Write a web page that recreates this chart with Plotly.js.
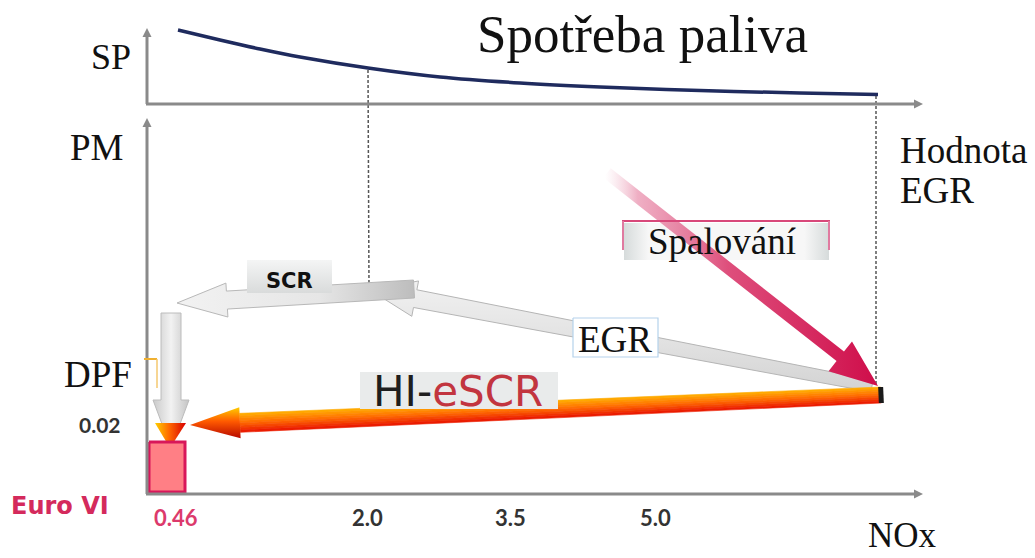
<!DOCTYPE html>
<html>
<head>
<meta charset="utf-8">
<script src="https://cdn.plot.ly/plotly-3.0.1.min.js"></script>
<style>html,body{margin:0;padding:0;background:#fff;}#chart{width:1035px;height:558px;}</style>
</head>
<body>
<div id="chart"></div>
<script>
// ---------------- data (schematic positions) ----------------
// fuel consumption curve (SP) across the NOx / EGR range
const spCurveX = [178, 220, 260, 300, 368, 440, 520, 600, 700, 800, 878];
const spCurveY = [30, 40, 49, 57, 68, 77, 83, 87, 90.5, 93, 94.5];
// NOx tick labels
const noxTickLabels = ["0.46", "2.0", "3.5", "5.0"];
const noxTickX = [176, 367, 510, 655];
// PM tick label
const pmTickLabel = "0.02";
// arrows: [tailX, tailY, tipX, tipY]
const arrowEGR = [872, 386, 370, 290];
const arrowSCR = [414, 289, 177, 303];
const arrowDPF = [171, 313, 171, 448];
const arrowHIeSCR = [881, 395, 190, 425];
const arrowSpal = [607, 173, 878, 386];
// text labels
const titleText = "Spotřeba paliva";
const axisLabels = ["SP", "PM", "NOx"];
const egrValueLabel = ["Hodnota", "EGR"];
const boxLabels = ["SCR", "EGR", "Spalování", "DPF"];
const euroLabel = "Euro VI";

// ---------------- helpers ----------------
function arrowPts(a, wt, wn, hw, hl) {
  const [x0, y0, x1, y1] = a;
  const dx = x1 - x0, dy = y1 - y0, L = Math.hypot(dx, dy);
  const ux = dx / L, uy = dy / L, px = -uy, py = ux;
  const nx = x1 - ux * hl, ny = y1 - uy * hl;
  return {x0, y0, x1, y1, ux, uy, px, py, nx, ny, wt, wn, hw, hl};
}
function arrowPoly(a, wt, wn, hw, hl) {
  const g = arrowPts(a, wt, wn, hw, hl);
  const P = [
    [g.x0 + g.px * wt / 2, g.y0 + g.py * wt / 2],
    [g.nx + g.px * wn / 2, g.ny + g.py * wn / 2],
    [g.nx + g.px * hw / 2, g.ny + g.py * hw / 2],
    [g.x1, g.y1],
    [g.nx - g.px * hw / 2, g.ny - g.py * hw / 2],
    [g.nx - g.px * wn / 2, g.ny - g.py * wn / 2],
    [g.x0 - g.px * wt / 2, g.y0 - g.py * wt / 2]
  ];
  return {x: P.map(p => p[0]), y: P.map(p => p[1])};
}
function poly(xs, ys, fill, extra) {
  return Object.assign({
    type: "scatter", mode: "lines", x: xs.concat([xs[0]]), y: ys.concat([ys[0]]),
    fill: "toself", fillcolor: fill, line: {width: 0, color: fill},
    hoverinfo: "skip", showlegend: false
  }, extra || {});
}
function rectTrace(x0, y0, x1, y1, fill, extra) {
  return poly([x0, x1, x1, x0], [y0, y0, y1, y1], fill, extra);
}
function lerpColor(c1, c2, t) {
  const h = c => [1, 3, 5].map(i => parseInt(c.substr(i, 2), 16));
  const a = h(c1), b = h(c2);
  return "rgb(" + a.map((v, i) => Math.round(v + (b[i] - v) * t)).join(",") + ")";
}

const traces = [];

// SP curve
traces.push({
  type: "scatter", mode: "lines", x: spCurveX, y: spCurveY,
  line: {color: "#1f2b5e", width: 3.5, shape: "spline"},
  hoverinfo: "skip", showlegend: false
});

// grey EGR arrow
const egr = arrowPoly(arrowEGR, 12, 18, 36, 46);
traces.push(poly(egr.x, egr.y, "#e4e4e4", {
  line: {width: 1, color: "#b5b5b5"},
  fillgradient: {type: "vertical", start: 285, stop: 395,
    colorscale: [[0, "#f0f0f0"], [0.5, "#e2e2e2"], [1, "#d2d2d2"]]}
}));
// grey SCR arrow
const scr = arrowPoly(arrowSCR, 18, 18, 34, 50);
traces.push(poly(scr.x, scr.y, "#e6e6e6", {
  line: {width: 1, color: "#b8b8b8"},
  fillgradient: {type: "horizontal", start: 177, stop: 414,
    colorscale: [[0, "#f2f2f2"], [0.6, "#e6e6e6"], [1, "#bdbdbd"]]}
}));
// grey DPF arrow
const dpf = arrowPoly(arrowDPF, 20, 20, 36, 48);
traces.push(poly(dpf.x, dpf.y, "#e2e2e2", {
  line: {width: 1, color: "#bcbcbc"},
  fillgradient: {type: "horizontal", start: 153, stop: 189,
    colorscale: [[0, "#c9c9c9"], [0.5, "#f2f2f2"], [1, "#c4c4c4"]]}
}));
// orange tip where DPF meets HI-eSCR
traces.push(poly([155, 186, 170], [423, 423, 448], "#ff6000", {
  fillgradient: {type: "horizontal", start: 155, stop: 186,
    colorscale: [[0, "#ffd000"], [0.45, "#ff6a00"], [1, "#d80000"]]}
}));

// HI-eSCR arrow: shaft in strips (yellow top -> red bottom), head with gradient
const hg = arrowPts(arrowHIeSCR, 16, 19, 31, 50);
const N = 8;
for (let i = 0; i < N; i++) {
  const a = 0.5 - i / N, b = 0.5 - (i + 1) / N;
  const t = (i + 0.5) / N;
  const col = t < 0.5 ? lerpColor("#ffb300", "#ff6a00", t / 0.5) : lerpColor("#ff6a00", "#e81200", (t - 0.5) / 0.5);
  const xs = [hg.x0 + hg.px * hg.wt * a, hg.nx + hg.px * hg.wn * a, hg.nx + hg.px * hg.wn * b, hg.x0 + hg.px * hg.wt * b];
  const ys = [hg.y0 + hg.py * hg.wt * a, hg.ny + hg.py * hg.wn * a, hg.ny + hg.py * hg.wn * b, hg.y0 + hg.py * hg.wt * b];
  traces.push(poly(xs, ys, col, {line: {width: 0.6, color: col}}));
}
traces.push(poly(
  [hg.nx + hg.px * hg.hw / 2, hg.x1, hg.nx - hg.px * hg.hw / 2],
  [hg.ny + hg.py * hg.hw / 2, hg.y1, hg.ny - hg.py * hg.hw / 2], "#ff5a00", {
  fillgradient: {type: "vertical", start: 406, stop: 440,
    colorscale: [[0, "#ffd800"], [0.45, "#ff5a00"], [1, "#b00000"]]}
}));
// dark end cap
traces.push({
  type: "scatter", mode: "lines",
  x: [hg.x0 + hg.px * 8, hg.x0 - hg.px * 8], y: [hg.y0 + hg.py * 8, hg.y0 - hg.py * 8],
  line: {color: "#1a1a1a", width: 5}, hoverinfo: "skip", showlegend: false
});

// label boxes drawn over the grey arrows
traces.push(rectTrace(247, 260, 332, 293, "#e8eaea", {
  fillgradient: {type: "vertical", start: 260, stop: 293,
    colorscale: [[0, "#f4f5f5"], [1, "#d9dbdb"]]}
}));
traces.push(rectTrace(573, 318, 658, 357, "#ffffff", {line: {width: 1.2, color: "#b5d2ec"}}));
traces.push(rectTrace(624, 223, 829, 260, "#f4f4f4", {
  fillgradient: {type: "horizontal", start: 624, stop: 829,
    colorscale: [[0, "#d6dbdb"], [0.12, "#f7f7f7"], [0.88, "#f7f7f7"], [1, "#d6dbdb"]]}
}));

// Spalování arrow (fades in from the top-left)
const sp = arrowPoly(arrowSpal, 12, 12, 38, 48);
traces.push(poly(sp.x, sp.y, "#d0104c", {
  fillgradient: {type: "horizontal", start: 605, stop: 878,
    colorscale: [[0, "rgba(240,190,205,0)"], [0.12, "rgba(232,140,170,0.7)"], [0.45, "#de4f7c"], [1, "#cf0d4a"]]}
}));

// HI-eSCR label box
traces.push(rectTrace(360, 372, 558, 409, "#e9ebeb"));

// Euro VI box
traces.push(rectTrace(149, 442, 185, 492, "#ff7f85", {line: {width: 3, color: "#d8175a"}}));

// ---------------- shapes: axes, dashes ----------------
const axisCol = "#8a8a8a";
const shapes = [
  // top axes
  {type: "line", x0: 147, y0: 104, x1: 147, y1: 36, line: {color: axisCol, width: 3}},
  {type: "line", x0: 146, y0: 104, x1: 916, y1: 104, line: {color: axisCol, width: 3}},
  {type: "path", path: "M 142.5 37 L 147 28 L 151.5 37 Z", fillcolor: axisCol, line: {width: 0}},
  {type: "path", path: "M 914 99.5 L 923 104 L 914 108.5 Z", fillcolor: axisCol, line: {width: 0}},
  // bottom axes
  {type: "line", x0: 147, y0: 494, x1: 147, y1: 126, line: {color: axisCol, width: 3}},
  {type: "line", x0: 146, y0: 494, x1: 916, y1: 494, line: {color: axisCol, width: 3}},
  {type: "path", path: "M 142.5 127 L 147 118 L 151.5 127 Z", fillcolor: axisCol, line: {width: 0}},
  {type: "path", path: "M 914 489.5 L 923 494 L 914 498.5 Z", fillcolor: axisCol, line: {width: 0}},
  // dashed guides
  {type: "line", x0: 368, y0: 70, x1: 369, y1: 288, line: {color: "#555", width: 1.5, dash: "3px,2px"}, layer: "below"},
  {type: "line", x0: 876, y0: 96, x1: 876, y1: 384, line: {color: "#555", width: 1.5, dash: "3px,2px"}, layer: "below"},
  // Spalování frame
  {type: "line", x0: 622, y0: 221, x1: 830, y1: 221, line: {color: "#d8487a", width: 2}, layer: "above"},
  {type: "line", x0: 623, y0: 221, x1: 623, y1: 250, line: {color: "#e07aa0", width: 2}, layer: "above"},
  {type: "line", x0: 829, y0: 221, x1: 829, y1: 250, line: {color: "#e07aa0", width: 2}, layer: "above"},
  // DPF small marker
  {type: "rect", x0: 149, y0: 359, x1: 157, y1: 392, fillcolor: "#ffffff", line: {width: 0}, layer: "above"},
  {type: "line", x0: 144, y0: 359, x1: 157, y1: 359, line: {color: "#f0b030", width: 2}, layer: "above"},
  {type: "line", x0: 157, y0: 359, x1: 157, y1: 388, line: {color: "#f4c870", width: 1.5}, layer: "above"}
];

// ---------------- annotations ----------------
const serif = "Liberation Serif, Times New Roman, serif";
const ink = "#111111";
function ann(text, x, y, size, family, color, extra) {
  return Object.assign({text, x, y, xref: "x", yref: "y", showarrow: false,
    font: {family, size, color}, xanchor: "center", yanchor: "middle"}, extra || {});
}
function annW(text, x, y, size, family, color, weight, extra) {
  return Object.assign(ann(text, x, y, size, family, color), {font: {family, size, color, weight}}, extra || {});
}
const annotations = [
  ann(titleText, 642, 34, 53, serif, ink),
  ann(axisLabels[0], 111, 57, 36, serif, ink),
  ann(axisLabels[1], 96, 147, 37, serif, ink),
  ann(axisLabels[2], 902, 535, 35, serif, ink),
  ann(egrValueLabel[0], 898, 150, 37, serif, ink, {xanchor: "left"}),
  ann(egrValueLabel[1], 898, 190, 37, serif, ink, {xanchor: "left"}),
  annW(boxLabels[0], 289, 281, 21, "DejaVu Sans, sans-serif", "#111", "bold"),
  ann(boxLabels[1], 615, 339, 37, serif, ink),
  ann(boxLabels[2], 722, 241, 37, serif, ink),
  ann(boxLabels[3], 134, 374, 37, serif, ink, {xanchor: "right"}),
  ann('HI-<span style="color:#c2353f">eSCR</span>', 458, 391, 42, "DejaVu Sans, sans-serif", "#1e1e1e"),
  annW(pmTickLabel, 100, 424, 21, "Lato, sans-serif", "#333", "bold"),
  annW(euroLabel, 60, 506, 24, "DejaVu Sans, sans-serif", "#d42a5c", "bold")
];
noxTickLabels.forEach((t, i) => {
  const col = i === 0 ? "#dc3a6c" : "#333";
  annotations.push(annW(t, noxTickX[i], 517, 22, "Lato, sans-serif", col, "bold"));
});

const layout = {
  width: 1035, height: 558,
  margin: {l: 0, r: 0, t: 0, b: 0, pad: 0},
  paper_bgcolor: "#ffffff", plot_bgcolor: "#ffffff",
  xaxis: {range: [0, 1035], visible: false, fixedrange: true},
  yaxis: {range: [558, 0], visible: false, fixedrange: true},
  showlegend: false,
  shapes, annotations
};
Plotly.newPlot("chart", traces, layout, {displayModeBar: false, staticPlot: true});
</script>
</body>
</html>
